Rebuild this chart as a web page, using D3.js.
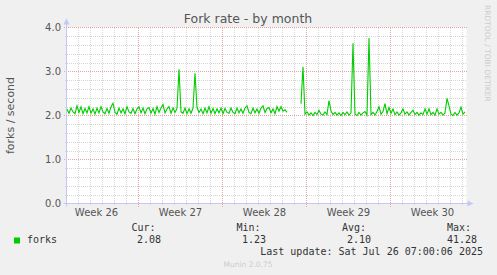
<!DOCTYPE html>
<html>
<head>
<meta charset="utf-8">
<script src="https://cdn.jsdelivr.net/npm/d3@7"></script>
<style>
    html, body { margin: 0; padding: 0; background: #f0f0f0; }
    svg { display: block; }
</style>
</head>
<body>
<script>
// Munin-style colours
const LINE_COLOR = "#00cc00";
const MINOR_GRID = "#d6d6d6";
const MAJOR_GRID = "#e6a4a4";
const AXIS_COLOR = "#c4c8f4";
const TEXT_COLOR = "#555";

const WIDTH = 497;
const HEIGHT = 275;

const PLOT_LEFT = 66.5;
const PLOT_RIGHT = 466.5;
const PLOT_TOP = 27.5;
const PLOT_BOTTOM = 203.5;

// Data: one sample every 4 hours, starting 2025-06-24 01:00 UTC
const SERIES_START = new Date(Date.UTC(2025, 5, 24, 1));
const SERIES_STEP_HOURS = 4;
const FORKS = [
    2.14, 2.05, 2.17, 2.08, 2.04, 2.22, 2.07, 2.20, 2.04, 2.16, 2.06,
    2.20, 2.05, 2.15, 2.03, 2.17, 2.06, 2.20, 2.08, 2.04, 2.16,
    2.05, 2.20, 2.28, 2.07, 2.03, 2.17, 2.06, 2.15, 2.04, 2.20,
    2.08, 2.05, 2.16, 2.04, 2.15, 2.20, 2.06, 2.17, 2.04, 2.15,
    2.18, 2.05, 2.16, 2.03, 2.20, 2.07, 2.17, 2.25, 2.06, 2.15,
    2.20, 2.05, 2.17, 2.07, 2.16, 3.05, 2.08, 2.05, 2.17, 2.04,
    2.15, 2.05, 2.17, 2.96, 2.18, 2.07, 2.15, 2.04, 2.17, 2.06,
    2.20, 2.05, 2.16, 2.04, 2.15, 2.06, 2.17, 2.04, 2.16, 2.07,
    2.05, 2.17, 2.07, 2.04, 2.17, 2.06, 2.15, 2.05, 2.17, 2.22,
    2.07, 2.04, 2.17, 2.06, 2.15, 2.05, 2.17, 2.22, 2.07, 2.16,
    2.18, 2.06, 2.15, 2.04, 2.20, 2.10, 2.20, 2.10, 2.13, 2.07,
    null, null, null, null, null, null,
    2.27, 3.11, 2.03,
    2.08, 2.01, 2.06, 2.00, 2.07, 2.02, 2.12, 2.03, 2.01, 2.08, 2.02,
    2.34, 2.10, 2.02, 2.07, 2.01, 2.06, 2.00, 2.07, 2.02, 2.08, 2.01, 2.06,
    3.64, 2.03, 2.00, 2.07, 2.01, 2.06, 2.09, 2.01,
    3.76, 2.02, 2.07, 2.01, 2.09, 2.20, 2.03, 2.09, 2.27, 2.04,
    2.18, 2.05, 2.15, 2.02, 2.08, 2.01, 2.06, 2.15, 2.03, 2.08,
    2.01, 2.07, 2.12, 2.02, 2.07, 2.01, 2.06, 2.02, 2.15, 2.03,
    2.15, 2.02, 2.07, 2.01, 2.15, 2.03, 2.07, 2.01, 2.06, 2.39,
    2.22, 2.03, 2.00, 2.07, 2.01, 2.06, 2.19, 2.03, 2.08
];

const TIME_START = new Date(Date.UTC(2025, 5, 24, 0));
const TIME_END = new Date(Date.UTC(2025, 6, 27, 8));

const WEEK_STARTS = [
    new Date(Date.UTC(2025, 5, 23)),
    new Date(Date.UTC(2025, 5, 30)),
    new Date(Date.UTC(2025, 6, 7)),
    new Date(Date.UTC(2025, 6, 14)),
    new Date(Date.UTC(2025, 6, 21)),
];
const WEEK_LABELS = ["Week 26", "Week 27", "Week 28", "Week 29", "Week 30"];

const Y_TICKS = [0, 1, 2, 3, 4];
const Y_TICK_LABELS = ["0.0", "1.0", "2.0", "3.0", "4.0"];
const Y_MINOR_STEP = 0.2;

const LEGEND_NAME = "forks";
const LEGEND_HEADERS = ["Cur:", "Min:", "Avg:", "Max:"];
const LEGEND_VALUES = ["2.08", "1.23", "2.10", "41.28"];
const LAST_UPDATE = "Last update: Sat Jul 26 07:00:06 2025";

const svg = d3.select("body").append("svg")
    .attr("width", WIDTH)
    .attr("height", HEIGHT);

svg.append("rect")
    .attr("width", WIDTH)
    .attr("height", HEIGHT)
    .attr("fill", "#f0f0f0");

const xScale = d3.scaleUtc()
    .domain([TIME_START, TIME_END])
    .range([PLOT_LEFT, PLOT_RIGHT]);

const yScale = d3.scaleLinear()
    .domain([0, 4])
    .range([PLOT_BOTTOM, PLOT_TOP]);

// Plot background
svg.append("rect")
    .attr("x", PLOT_LEFT)
    .attr("y", PLOT_TOP)
    .attr("width", PLOT_RIGHT - PLOT_LEFT)
    .attr("height", PLOT_BOTTOM - PLOT_TOP)
    .attr("fill", "#fff");

const grid = svg.append("g").attr("stroke-dasharray", "1,1").attr("shape-rendering", "crispEdges");

// Minor grid: one line per day, one per 0.2
const days = d3.utcDay.range(d3.utcDay.offset(TIME_START, 1), TIME_END);
grid.selectAll(".vminor")
    .data(days.filter(d => d3.utcMonday.floor(d) - d !== 0))
    .join("line")
    .attr("x1", d => xScale(d)).attr("x2", d => xScale(d))
    .attr("y1", PLOT_TOP).attr("y2", PLOT_BOTTOM + 2)
    .attr("stroke", MINOR_GRID);

const minorY = d3.range(Y_MINOR_STEP, 4, Y_MINOR_STEP).filter(v => Math.abs(v - Math.round(v)) > 1e-6);
grid.selectAll(".hminor")
    .data(minorY)
    .join("line")
    .attr("x1", PLOT_LEFT - 2).attr("x2", PLOT_RIGHT)
    .attr("y1", d => Math.round(yScale(d)) + 0.5).attr("y2", d => Math.round(yScale(d)) + 0.5)
    .attr("stroke", MINOR_GRID);

// Major grid
grid.selectAll(".vmajor")
    .data(WEEK_STARTS.filter(d => d > TIME_START && d < TIME_END))
    .join("line")
    .attr("x1", d => xScale(d)).attr("x2", d => xScale(d))
    .attr("y1", PLOT_TOP).attr("y2", PLOT_BOTTOM + 3)
    .attr("stroke", MAJOR_GRID);

grid.selectAll(".hmajor")
    .data(Y_TICKS.filter(v => v > 0))
    .join("line")
    .attr("x1", PLOT_LEFT - 3).attr("x2", PLOT_RIGHT)
    .attr("y1", d => yScale(d)).attr("y2", d => yScale(d))
    .attr("stroke", MAJOR_GRID);

// Axes with arrow heads
svg.append("line")
    .attr("x1", PLOT_LEFT).attr("x2", PLOT_LEFT)
    .attr("y1", PLOT_BOTTOM + 3).attr("y2", PLOT_TOP - 5)
    .attr("stroke", AXIS_COLOR);
svg.append("path")
    .attr("d", `M${PLOT_LEFT - 3},${PLOT_TOP - 3} L${PLOT_LEFT},${PLOT_TOP - 9} L${PLOT_LEFT + 3},${PLOT_TOP - 3} Z`)
    .attr("fill", AXIS_COLOR);
svg.append("line")
    .attr("x1", PLOT_LEFT - 3).attr("x2", PLOT_RIGHT + 3)
    .attr("y1", PLOT_BOTTOM).attr("y2", PLOT_BOTTOM)
    .attr("stroke", AXIS_COLOR);
svg.append("path")
    .attr("d", `M${PLOT_RIGHT + 1},${PLOT_BOTTOM - 3} L${PLOT_RIGHT + 7},${PLOT_BOTTOM} L${PLOT_RIGHT + 1},${PLOT_BOTTOM + 3} Z`)
    .attr("fill", AXIS_COLOR);

// Data line
const points = FORKS.map((v, i) => ({
    date: d3.utcHour.offset(SERIES_START, i * SERIES_STEP_HOURS),
    value: v
}));

const line = d3.line()
    .defined(d => d.value !== null)
    .x(d => xScale(d.date))
    .y(d => yScale(d.value));

svg.append("path")
    .datum(points)
    .attr("d", line)
    .attr("fill", "none")
    .attr("stroke", LINE_COLOR)
    .attr("stroke-width", 1.1);

// Y tick labels
svg.selectAll(".ylabel")
    .data(Y_TICKS)
    .join("text")
    .attr("x", 61)
    .attr("y", d => yScale(d) + 3.5)
    .attr("text-anchor", "end")
    .attr("font-family", "DejaVu Sans")
    .attr("font-size", 10)
    .attr("fill", TEXT_COLOR)
    .text((d, i) => Y_TICK_LABELS[i]);

// X week labels, centred in each week
svg.selectAll(".xlabel")
    .data(WEEK_STARTS)
    .join("text")
    .attr("x", d => xScale(d3.utcHour.offset(d, 84)))
    .attr("y", 216)
    .attr("text-anchor", "middle")
    .attr("font-family", "DejaVu Sans")
    .attr("font-size", 10)
    .attr("fill", TEXT_COLOR)
    .text((d, i) => WEEK_LABELS[i]);

// Title
svg.append("text")
    .attr("x", 248)
    .attr("y", 23)
    .attr("text-anchor", "middle")
    .attr("font-family", "DejaVu Sans")
    .attr("font-size", 12.5)
    .attr("fill", TEXT_COLOR)
    .text("Fork rate - by month");

// Y axis title
svg.append("text")
    .attr("transform", `translate(14, ${(PLOT_TOP + PLOT_BOTTOM) / 2}) rotate(-90)`)
    .attr("text-anchor", "middle")
    .attr("font-family", "DejaVu Sans")
    .attr("font-size", 11)
    .attr("fill", TEXT_COLOR)
    .text("forks / second");

// Watermark on the right
svg.append("text")
    .attr("transform", "translate(485, 5) rotate(90)")
    .attr("font-family", "DejaVu Sans")
    .attr("font-size", 7.5)
    .attr("fill", "#ccc")
    .text("RRDTOOL / TOBI OETIKER");

// Legend
const mono = "DejaVu Sans Mono";
svg.append("rect")
    .attr("x", 14).attr("y", 237.5)
    .attr("width", 6).attr("height", 6)
    .attr("fill", LINE_COLOR);
svg.append("text")
    .attr("x", 27).attr("y", 243)
    .attr("font-family", mono).attr("font-size", 10).attr("fill", "#333")
    .text(LEGEND_NAME);

const headerX = [131.5, 236.5, 342, 447];
const valueX = [161, 266, 371, 477];
svg.selectAll(".lhead")
    .data(LEGEND_HEADERS)
    .join("text")
    .attr("x", (d, i) => headerX[i]).attr("y", 231)
    .attr("font-family", mono).attr("font-size", 10).attr("fill", "#333")
    .text(d => d);
svg.selectAll(".lval")
    .data(LEGEND_VALUES)
    .join("text")
    .attr("x", (d, i) => valueX[i]).attr("y", 243)
    .attr("text-anchor", "end")
    .attr("font-family", mono).attr("font-size", 10).attr("fill", "#333")
    .text(d => d);

svg.append("text")
    .attr("x", 483).attr("y", 255)
    .attr("text-anchor", "end")
    .attr("font-family", mono).attr("font-size", 10).attr("fill", "#333")
    .text(LAST_UPDATE);

svg.append("text")
    .attr("x", 248).attr("y", 267)
    .attr("text-anchor", "middle")
    .attr("font-family", "DejaVu Sans").attr("font-size", 7.5).attr("fill", "#ccc")
    .text("Munin 2.0.75");
</script>
</body>
</html>
